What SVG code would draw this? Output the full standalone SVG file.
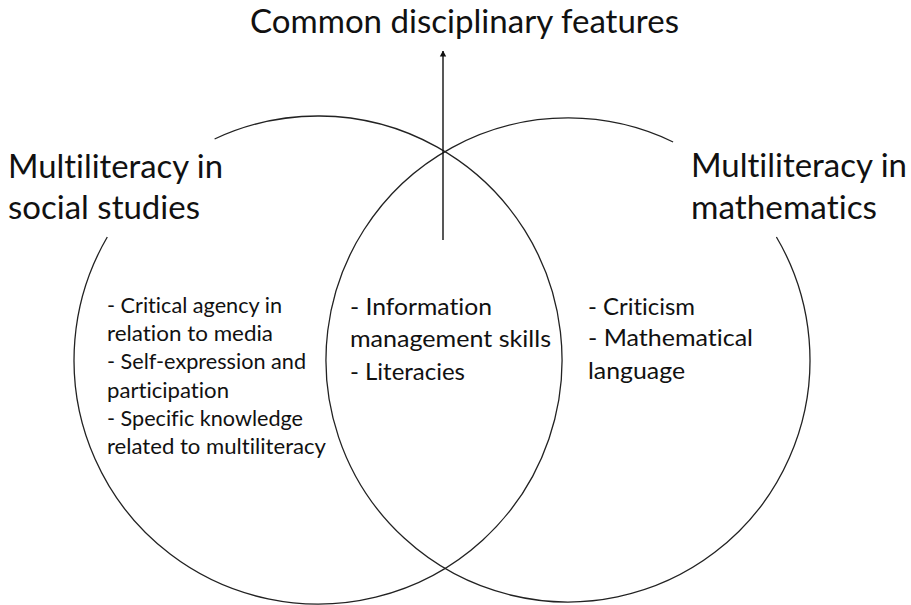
<svg xmlns="http://www.w3.org/2000/svg" width="911" height="605" viewBox="0 0 911 605">
<defs>
<style>
.t{font-family:Lato,"Open Sans","Liberation Sans",sans-serif;fill:#111;font-variant-ligatures:none;}
.big{font-size:32px;}
.sm{font-size:21px;}
.md{font-size:24px;}
.ring{fill:none;stroke:#222;stroke-width:1.3;}
.conn{fill:none;stroke:#111;stroke-width:1.4;}
</style>
<marker id="ah" viewBox="0 0 6 8" refX="5.5" refY="4" markerWidth="6" markerHeight="8" markerUnits="userSpaceOnUse" orient="auto">
<path d="M0,0.8 L6,4 L0,7.2 Z" fill="#111"/>
</marker>
</defs>
<rect width="911" height="605" fill="#fff"/>
<g id="title">
<text class="t big" x="250" y="33" textLength="429" lengthAdjust="spacingAndGlyphs">Common disciplinary features</text>
</g>
<g id="social-studies">
<path class="ring" d="M214.6,139 A244,244 0 1 1 107.3,237"/>
<text class="t big" x="8" y="178" textLength="215" lengthAdjust="spacingAndGlyphs">Multiliteracy in</text>
<text class="t big" x="8" y="219" textLength="192" lengthAdjust="spacingAndGlyphs">social studies</text>
<text class="t sm" x="107" y="313" textLength="175" lengthAdjust="spacingAndGlyphs">- Critical agency in</text>
<text class="t sm" x="107" y="341" textLength="166" lengthAdjust="spacingAndGlyphs">relation to media</text>
<text class="t sm" x="107" y="369" textLength="199" lengthAdjust="spacingAndGlyphs">- Self-expression and</text>
<text class="t sm" x="107" y="398" textLength="122" lengthAdjust="spacingAndGlyphs">participation</text>
<text class="t sm" x="107" y="426" textLength="196" lengthAdjust="spacingAndGlyphs">- Specific knowledge</text>
<text class="t sm" x="107" y="454" textLength="219" lengthAdjust="spacingAndGlyphs">related to multiliteracy</text>
</g>
<g id="mathematics">
<path class="ring" d="M776.4,237 A242,242 0 1 1 673.1,142"/>
<text class="t big" x="691" y="177" textLength="216" lengthAdjust="spacingAndGlyphs">Multiliteracy in</text>
<text class="t big" x="691" y="219" textLength="186" lengthAdjust="spacingAndGlyphs">mathematics</text>
<text class="t md" x="588" y="315" textLength="107" lengthAdjust="spacingAndGlyphs">- Criticism</text>
<text class="t md" x="588" y="346" textLength="165" lengthAdjust="spacingAndGlyphs">- Mathematical</text>
<text class="t md" x="588" y="379" textLength="97" lengthAdjust="spacingAndGlyphs">language</text>
</g>
<g id="common">
<text class="t md" x="350" y="315" textLength="142" lengthAdjust="spacingAndGlyphs">- Information</text>
<text class="t md" x="350" y="347" textLength="201" lengthAdjust="spacingAndGlyphs">management skills</text>
<text class="t md" x="350" y="380" textLength="115" lengthAdjust="spacingAndGlyphs">- Literacies</text>
</g>
<g id="connectors">
<line class="conn" x1="443" y1="240" x2="443" y2="51" marker-end="url(#ah)"/>
</g>
</svg>
